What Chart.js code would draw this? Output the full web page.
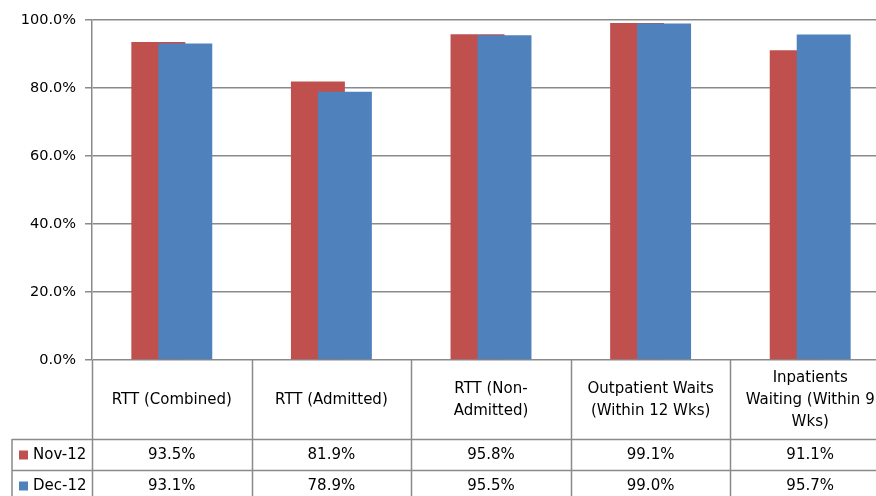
<!DOCTYPE html>
<html>
<head>
<meta charset="utf-8">
<script src="https://cdn.jsdelivr.net/npm/chart.js@4"></script>
<style>
  html, body { margin: 0; padding: 0; background: #fff; overflow: hidden; }
  #wrap { width: 900px; height: 496px; position: relative; }
</style>
</head>
<body>
<div id="wrap"><canvas id="c"></canvas></div>
<script>
// Category header lines (as wrapped in the data table)
const categories = [
  ['RTT (Combined)'],
  ['RTT (Admitted)'],
  ['RTT (Non-', 'Admitted)'],
  ['Outpatient Waits', '(Within 12 Wks)'],
  ['Inpatients', 'Waiting (Within 9', 'Wks)']
];
const seriesNames = ['Nov-12', 'Dec-12'];
const nov12 = [93.5, 81.9, 95.8, 99.1, 91.1];
const dec12 = [93.1, 78.9, 95.5, 99.0, 95.7];
const yTicks = [0, 20, 40, 60, 80, 100];

const RED = '#C0504D';
const BLUE = '#4F81BD';
const GRID = '#8a8a8a';
const FONT = '"DejaVu Sans", sans-serif';
const FONT_SIZE = 14.5;

// Draw datasets in index order so the later series sits on top of the overlap
const drawOrder = {
  id: 'drawOrder',
  beforeDatasetsDraw(chart) {
    const metas = chart.getSortedVisibleDatasetMetas().slice().sort((a, b) => a.index - b.index);
    const ctx = chart.ctx;
    const a = chart.chartArea;
    ctx.save();
    ctx.beginPath();
    ctx.rect(a.left, a.top - 1, a.right - a.left, a.bottom - a.top + 1);
    ctx.clip();
    metas.forEach(m => m.controller.draw());
    ctx.restore();
    return false;
  }
};

// Data table under the plot: category headers, legend keys and values
const dataTable = {
  id: 'dataTable',
  afterDraw(chart) {
    const ctx = chart.ctx;
    const x = chart.scales.x;
    const a = chart.chartArea;
    const n = categories.length;
    const cw = (a.right - a.left) / n;
    const headerBottom = a.bottom + 79;
    const rowH = 31;
    const legendLeft = 12;
    const bottom = chart.height + 5;

    ctx.save();
    ctx.strokeStyle = GRID;
    ctx.lineWidth = 1.5;
    const line = (x1, y1, x2, y2) => {
      ctx.beginPath();
      ctx.moveTo(x1, y1);
      ctx.lineTo(x2, y2);
      ctx.stroke();
    };
    // column separators
    for (let i = 0; i <= n; i++) {
      const px = Math.round(x.getPixelForValue(i) - cw / 2) + 0.5;
      line(px, a.bottom, px, bottom);
    }
    // row separators
    for (let r = 0; r < seriesNames.length + 1; r++) {
      const py = Math.round(headerBottom + r * rowH) + 0.5;
      line(legendLeft, py, a.right, py);
    }
    line(legendLeft, headerBottom, legendLeft, bottom);

    ctx.fillStyle = '#000';
    ctx.font = '15px ' + FONT;
    ctx.textAlign = 'center';
    ctx.textBaseline = 'middle';
    const lh = 22;
    const headerMid = (a.bottom + headerBottom) / 2 + 1;
    categories.forEach((lines, i) => {
      const cx = x.getPixelForValue(i);
      const y0 = headerMid - (lines.length - 1) * lh / 2;
      lines.forEach((t, k) => ctx.fillText(t, cx, y0 + k * lh));
    });

    const rows = [nov12, dec12];
    const colors = [RED, BLUE];
    rows.forEach((vals, r) => {
      const cy = headerBottom + r * rowH + rowH / 2 + 1;
      ctx.textAlign = 'center';
      vals.forEach((v, i) => ctx.fillText(v.toFixed(1) + '%', x.getPixelForValue(i), cy));
      ctx.fillStyle = colors[r];
      ctx.fillRect(19, cy - 5, 9, 9);
      ctx.fillStyle = '#000';
      ctx.textAlign = 'left';
      ctx.fillText(seriesNames[r], 33, cy);
    });
    ctx.restore();
  }
};

new Chart(document.getElementById('c'), {
  type: 'bar',
  data: {
    labels: categories.map(l => l.join(' ')),
    datasets: [
      { label: seriesNames[0], data: nov12, backgroundColor: RED },
      { label: seriesNames[1], data: dec12, backgroundColor: BLUE }
    ]
  },
  options: {
    responsive: true,
    maintainAspectRatio: false,
    animation: false,
    devicePixelRatio: 1,
    categoryPercentage: 0.338,
    barPercentage: 2,
    layout: { padding: { top: 20, right: 10, bottom: 136, left: 0 } },
    plugins: { legend: { display: false }, tooltip: { enabled: false } },
    scales: {
      x: { display: false },
      y: {
        min: 0, max: 100,
        afterFit(s) { s.width = 92; },
        afterBuildTicks(s) { s.ticks = yTicks.map(v => ({ value: v })); },
        grid: { color: GRID, lineWidth: 1.5, tickLength: 7, drawTicks: true },
        border: { display: true, color: GRID, width: 1.5 },
        ticks: {
          padding: 9,
          color: '#000',
          font: { family: FONT, size: FONT_SIZE },
          callback: v => v.toFixed(1) + '%'
        }
      }
    }
  },
  plugins: [drawOrder, dataTable]
});
</script>
</body>
</html>
